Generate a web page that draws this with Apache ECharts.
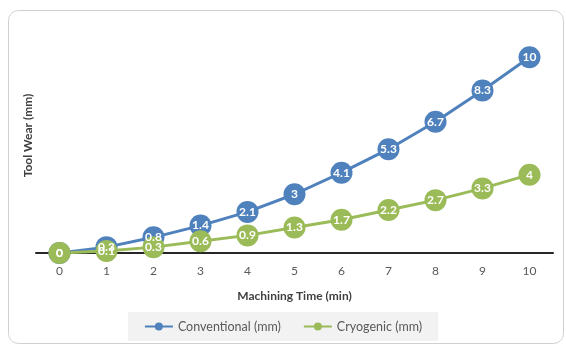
<!DOCTYPE html>
<html>
<head>
<meta charset="utf-8">
<script src="https://cdn.jsdelivr.net/npm/echarts@6/dist/echarts.min.js"></script>
<style>
  html, body { margin: 0; padding: 0; background: #fff; }
  #chart { width: 566px; height: 345px; }
</style>
</head>
<body>
<div id="chart"></div>
<script>
// machining time (min)
const times = ['0', '1', '2', '3', '4', '5', '6', '7', '8', '9', '10'];
// tool wear values (mm)
const conventional = [0, 0.3, 0.8, 1.4, 2.1, 3, 4.1, 5.3, 6.7, 8.3, 10];
const cryogenic = [0, 0.1, 0.3, 0.6, 0.9, 1.3, 1.7, 2.2, 2.7, 3.3, 4];

const font = 'Lato, "Open Sans", sans-serif';

const chart = echarts.init(document.getElementById('chart'));

function lineSeries(name, data, color) {
  return {
    name: name,
    type: 'line',
    data: data,
    symbol: 'circle',
    symbolSize: 22,
    lineStyle: { color: color, width: 3 },
    itemStyle: { color: color },
    label: {
      show: true,
      position: 'inside',
      color: '#fff',
      fontWeight: 'bold',
      fontSize: 12,
      fontFamily: font
    },
    emphasis: { disabled: true },
    animation: false
  };
}

chart.setOption({
  animation: false,
  graphic: [{
    type: 'rect',
    shape: { x: 8.5, y: 10.5, width: 555, height: 333, r: 10 },
    style: { fill: 'none', stroke: '#d0d0d0', lineWidth: 1 },
    z: -1
  }],
  grid: { left: 36, right: 13, top: 18, bottom: 92 },
  legend: {
    bottom: 4,
    left: 'center',
    backgroundColor: '#F2F2F2',
    padding: [8, 16],
    itemGap: 22,
    itemWidth: 28,
    itemHeight: 10,
    textStyle: { color: '#595959', fontSize: 12.5, fontFamily: font },
    data: ['Conventional (mm)', 'Cryogenic (mm)']
  },
  xAxis: {
    type: 'category',
    data: times,
    boundaryGap: true,
    name: 'Machining Time (min)',
    nameLocation: 'middle',
    nameGap: 37,
    nameTextStyle: { color: '#404040', fontWeight: 'bold', fontSize: 12, fontFamily: font },
    axisLine: { lineStyle: { color: '#262626', width: 2 } },
    axisTick: { show: false },
    axisLabel: { color: '#595959', fontSize: 12, fontFamily: font, margin: 12 }
  },
  yAxis: {
    type: 'value',
    min: 0,
    max: 12,
    name: 'Tool Wear (mm)',
    nameLocation: 'middle',
    nameGap: 2,
    nameTextStyle: { color: '#404040', fontWeight: 'bold', fontSize: 12, fontFamily: font },
    axisLine: { show: false },
    axisTick: { show: false },
    axisLabel: { show: false },
    splitLine: { show: false }
  },
  series: [
    lineSeries('Conventional (mm)', conventional, '#4F81BD'),
    lineSeries('Cryogenic (mm)', cryogenic, '#9BBB59')
  ]
});
</script>
</body>
</html>
